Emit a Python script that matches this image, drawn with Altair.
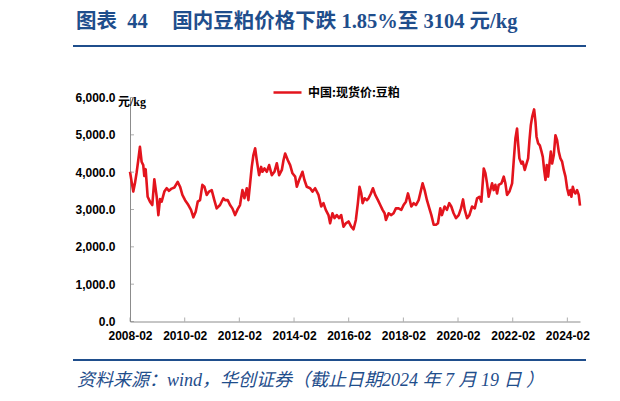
import altair as alt
import pandas as pd

TITLE = "图表\u200244\u3000\u2009国内豆粕价格下跌 1.85%至 3104 元/kg"
SOURCE = "资料来源：wind，华创证券（截止日期2024 年 7 月 19 日 ）"
UNIT = "元/kg"
SERIES = "中国:现货价:豆粕"

DATES = [
    "2008-02-01", "2008-02-23", "2008-03-16", "2008-04-07", "2008-04-29", "2008-05-20",
    "2008-06-13", "2008-07-05", "2008-07-27", "2008-08-10", "2008-08-28", "2008-09-24",
    "2008-10-25", "2008-11-25", "2008-12-22", "2009-01-23", "2009-02-14", "2009-03-08",
    "2009-03-30", "2009-05-05", "2009-06-05", "2009-07-06", "2009-08-11", "2009-09-16",
    "2009-10-30", "2009-12-01", "2010-01-01", "2010-02-06", "2010-03-22", "2010-04-26",
    "2010-05-28", "2010-06-28", "2010-07-25", "2010-08-25", "2010-09-25", "2010-10-22",
    "2010-11-22", "2010-12-23", "2011-01-28", "2011-03-04", "2011-04-04", "2011-05-19",
    "2011-07-02", "2011-07-25", "2011-08-30", "2011-09-30", "2011-10-31", "2011-12-06",
    "2012-01-10", "2012-02-10", "2012-03-13", "2012-04-09", "2012-05-10", "2012-06-01",
    "2012-06-24", "2012-07-16", "2012-08-07", "2012-08-30", "2012-09-21", "2012-10-22",
    "2012-11-18", "2012-12-06", "2013-01-02", "2013-02-02", "2013-03-05", "2013-04-10",
    "2013-05-15", "2013-06-16", "2013-07-17", "2013-08-22", "2013-09-13", "2013-10-05",
    "2013-11-10", "2013-12-11", "2014-01-11", "2014-02-16", "2014-03-10", "2014-04-10",
    "2014-05-25", "2014-06-20", "2014-07-21", "2014-09-04", "2014-10-05", "2014-11-10",
    "2014-12-25", "2015-01-30", "2015-03-01", "2015-04-01", "2015-05-07", "2015-05-29",
    "2015-06-29", "2015-07-26", "2015-08-26", "2015-09-27", "2015-10-24", "2015-11-24",
    "2015-12-25", "2016-01-30", "2016-03-06", "2016-04-06", "2016-05-07", "2016-06-03",
    "2016-06-25", "2016-07-18", "2016-08-05", "2016-09-01", "2016-10-02", "2016-10-24",
    "2016-11-24", "2016-12-21", "2017-01-21", "2017-02-26", "2017-03-29", "2017-04-29",
    "2017-05-26", "2017-06-13", "2017-07-19", "2017-08-23", "2017-09-23", "2017-10-24",
    "2017-11-29", "2018-01-04", "2018-02-04", "2018-03-07", "2018-04-03", "2018-04-21",
    "2018-05-18", "2018-06-18", "2018-07-19", "2018-08-24", "2018-09-20", "2018-10-16",
    "2018-11-12", "2018-12-13", "2019-01-14", "2019-02-10", "2019-03-13", "2019-04-13",
    "2019-05-09", "2019-06-09", "2019-07-01", "2019-08-06", "2019-09-06", "2019-10-07",
    "2019-11-03", "2019-12-04", "2020-01-05", "2020-02-10", "2020-03-12", "2020-04-08",
    "2020-05-01", "2020-06-01", "2020-07-02", "2020-08-07", "2020-09-12", "2020-10-13",
    "2020-11-13", "2020-12-09", "2021-01-10", "2021-02-01", "2021-02-23", "2021-03-17",
    "2021-04-08", "2021-05-01", "2021-05-23", "2021-06-14", "2021-07-07", "2021-07-29",
    "2021-09-03", "2021-10-04", "2021-10-26", "2021-11-17", "2021-12-19", "2022-01-24",
    "2022-02-15", "2022-03-09", "2022-03-31", "2022-04-14", "2022-05-01", "2022-05-28",
    "2022-06-15", "2022-07-12", "2022-07-30", "2022-08-26", "2022-09-13", "2022-10-01",
    "2022-10-19", "2022-11-14", "2022-12-02", "2022-12-16", "2023-01-07", "2023-01-29",
    "2023-02-21", "2023-03-10", "2023-03-28", "2023-04-15", "2023-05-02", "2023-05-20",
    "2023-06-07", "2023-06-25", "2023-07-13", "2023-08-04", "2023-08-26", "2023-09-17",
    "2023-10-09", "2023-10-31", "2023-11-23", "2023-12-15", "2024-01-07", "2024-01-29",
    "2024-02-20", "2024-03-13", "2024-03-26", "2024-04-14", "2024-05-01", "2024-05-19",
    "2024-06-10", "2024-07-02", "2024-07-19",
]

PRICES = [
    4010, 3740, 3480, 3700, 3980, 4300,
    4680, 4280, 4190, 3900, 4080, 3340,
    3210, 3120, 3810, 3340, 2850, 3280,
    3210, 3480, 3570, 3500, 3560, 3590,
    3740, 3610, 3390, 3250, 3120, 2990,
    2790, 2940, 3210, 3250, 3660, 3610,
    3390, 3480, 3520, 3250, 3030, 3120,
    3300, 3250, 3250, 3120, 3030, 2850,
    3010, 3120, 3520, 3300, 3570, 3250,
    3700, 4140, 4460, 4640, 4320, 3920,
    4140, 4010, 4100, 4010, 4190, 3920,
    4010, 4240, 3920, 4060, 4320, 4500,
    4320, 4190, 3970, 3880, 3610, 3790,
    4010, 3790, 3610, 3570, 3480, 3570,
    3390, 3080, 3170, 2990, 2850, 2630,
    2900, 2770, 2850, 2770, 2850, 2540,
    2630, 2680, 2540, 2470, 2720, 3170,
    3610, 3430, 3170, 3300, 3250, 3300,
    3430, 3570, 3390, 3250, 3120, 2990,
    2900, 2720, 2900, 2850, 2900, 3030,
    3030, 2990, 3120, 3210, 3430, 3300,
    3080, 3170, 3120, 3250, 3480, 3700,
    3520, 3250, 3030, 2850, 2590, 2590,
    2630, 3030, 2850, 3080, 2990, 3170,
    3080, 2900, 2770, 2850, 3030, 3270,
    2990, 2770, 2850, 3080, 3030, 3300,
    3340, 3210, 4100, 3970, 3700, 3340,
    3520, 3700, 3520, 3660, 3430, 3660,
    3700, 3880, 3700, 3390, 3480, 3700,
    4320, 4900, 5170, 4770, 4370, 4230,
    4280, 4060, 4190, 4370, 4860, 5260,
    5480, 5680, 5350, 4950, 4770, 4720,
    4550, 4410, 4060, 3790, 4190, 3880,
    4230, 4550, 4230, 4460, 4990, 4860,
    4550, 4370, 4280, 4060, 3880, 3570,
    3390, 3520, 3340, 3610, 3480, 3430,
    3520, 3390, 3104,
]

X_TICKS = ["2008-02-01", "2010-02-01", "2012-02-01", "2014-02-01", "2016-02-01",
           "2018-02-01", "2020-02-01", "2022-02-01", "2024-02-01"]
X_START = "2008-02-01"
X_END = "2024-07-19"
Y_TICKS = [0, 1000, 2000, 3000, 4000, 5000, 6000]

RED = "#E3141D"
BLUE = "#1F4E8C"
AXIS_GRAY = "#8C8C8C"
W, H = 450, 224


def dt(s):
    y, m, d = (int(p) for p in s.split("-"))
    return alt.DateTime(year=y, month=m, date=d, utc=True)


xscale = alt.Scale(type="utc", domain=[dt(X_START), dt(X_END)], nice=False)
yscale = alt.Scale(domain=[0, 6000], nice=False)

label_font = "Liberation Sans"

xaxis = alt.Axis(values=[dt(t) for t in X_TICKS], format="%Y-%m", title=None,
                 grid=False, ticks=False, labelAngle=0,
                 labelFlush=False, labelOverlap=False, labelPadding=9,
                 labelFont=label_font, labelFontWeight="bold", labelFontSize=12,
                 labelColor="#000000", domainColor=AXIS_GRAY, domainWidth=1)
yaxis = alt.Axis(values=Y_TICKS, format=",.1f", title=None, grid=False,
                 ticks=False, labelPadding=15,
                 labelFont=label_font, labelFontWeight="bold", labelFontSize=12,
                 labelColor="#000000", domainColor=AXIS_GRAY, domainWidth=1)

df = pd.DataFrame({"date": DATES, "price": PRICES, "series": SERIES})

line = alt.Chart(df).mark_line(strokeWidth=2.6, strokeJoin="round").encode(
    x=alt.X("date:T", scale=xscale, axis=xaxis),
    y=alt.Y("price:Q", scale=yscale, axis=yaxis),
    color=alt.Color("series:N", scale=alt.Scale(domain=[SERIES], range=[RED]),
                    legend=alt.Legend(title=None, orient="none", legendX=142, legendY=-20.5,
                                      symbolType="stroke", symbolSize=784,
                                      symbolStrokeWidth=2.5, labelFont="Noto Sans CJK SC",
                                      labelFontWeight="bold", labelFontSize=12,
                                      labelColor="#000000", labelOffset=5, padding=0)),
)

xticks = alt.Chart(pd.DataFrame({"date": X_TICKS})).mark_tick(
    orient="vertical", size=4, thickness=1, color=AXIS_GRAY, yOffset=-2
).encode(x=alt.X("date:T", scale=xscale, axis=xaxis), y=alt.value(H))

yticks = alt.Chart(pd.DataFrame({"price": Y_TICKS})).mark_tick(
    orient="horizontal", size=4, thickness=1, color=AXIS_GRAY, xOffset=2
).encode(y=alt.Y("price:Q", scale=yscale, axis=yaxis), x=alt.value(0))

serif = "'Liberation Serif', 'Noto Sans CJK SC', serif"

title = alt.Chart(pd.DataFrame({"t": [TITLE]})).mark_text(
    align="left", baseline="middle", font=serif, fontSize=20.5, fontWeight="bold", color=BLUE
).encode(text="t:N", x=alt.value(-54), y=alt.value(-76))

unit = alt.Chart(pd.DataFrame({"t": [UNIT]})).mark_text(
    align="left", baseline="middle", font=serif, fontSize=12, fontWeight="bold", color="#000000"
).encode(text="t:N", x=alt.value(-12), y=alt.value(4))

source = alt.Chart(pd.DataFrame({"t": [SOURCE]})).mark_text(
    align="left", baseline="middle", font=serif, fontSize=18, fontStyle="italic", color=BLUE
).encode(text="t:N", x=alt.value(-53), y=alt.value(283.5))

top_rule = alt.Chart(pd.DataFrame({"k": [0]})).mark_rule(color=BLUE, strokeWidth=2).encode(
    x=alt.value(-57), x2=alt.value(456), y=alt.value(-51.5))

bottom_rule = alt.Chart(pd.DataFrame({"k": [0]})).mark_rule(color=BLUE, strokeWidth=2).encode(
    x=alt.value(-57), x2=alt.value(456), y=alt.value(262.5))

chart = alt.layer(line, xticks, yticks, title, unit, source, top_rule, bottom_rule).properties(
    width=W, height=H,
    autosize=alt.AutoSizeParams(type="none"),
    padding={"left": 122, "top": 89.5, "right": 32, "bottom": 70},
    background="white",
).configure_view(stroke=None)

chart.save("out.html", embed_options={"renderer": "svg", "actions": False})
